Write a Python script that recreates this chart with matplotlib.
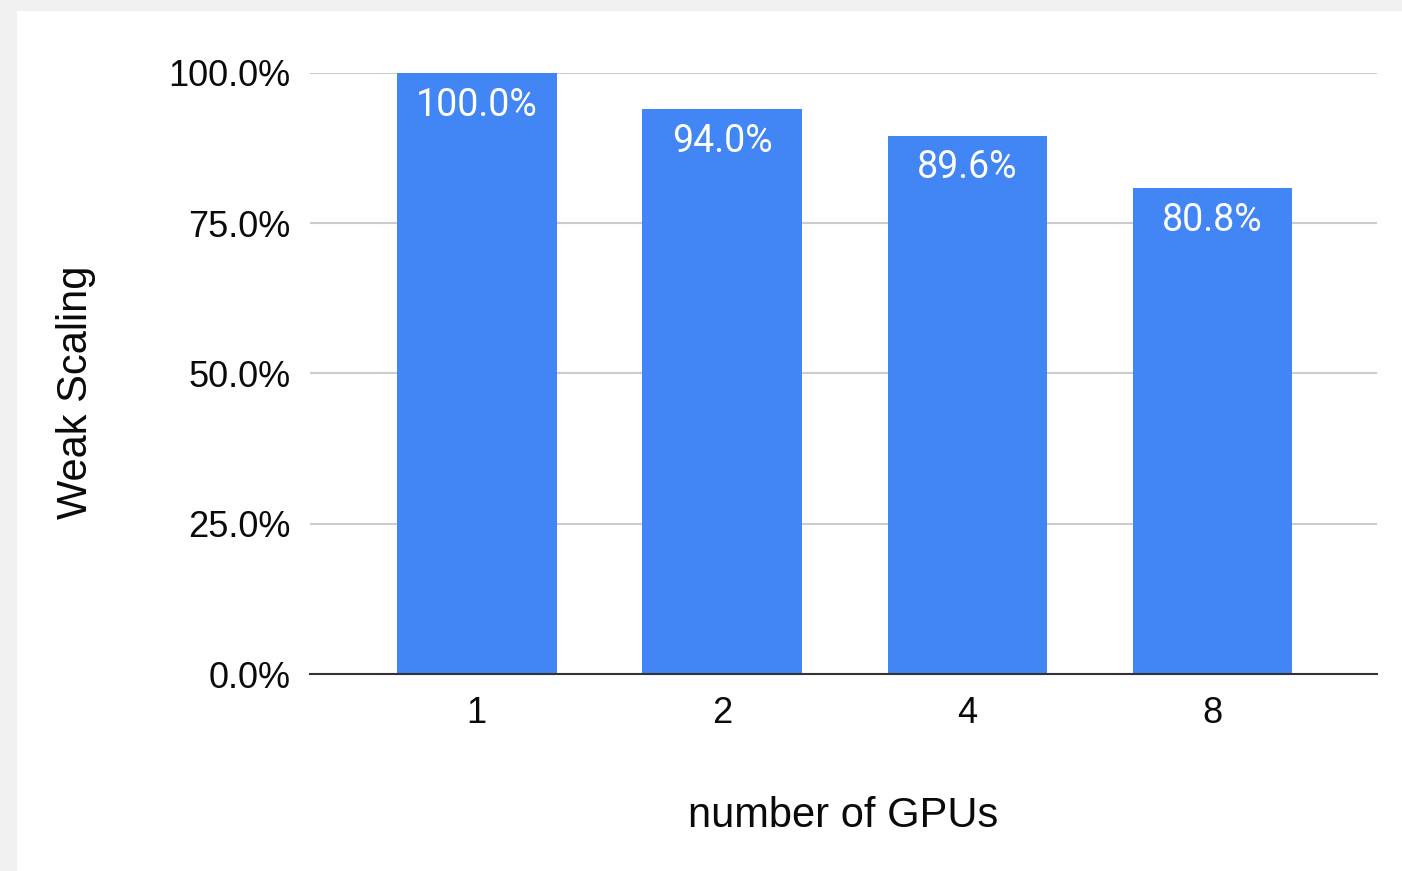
import matplotlib
matplotlib.use("Agg")
import matplotlib.pyplot as plt
from matplotlib.patches import Rectangle
from matplotlib.ticker import FuncFormatter

gpus = ["1", "2", "4", "8"]
weak_scaling = [100.0, 94.0, 89.6, 80.8]
y_ticks = [0, 25, 50, 75, 100]

bar_color = "#4285F4"

fig = plt.figure(figsize=(14.02, 8.71), dpi=100)
fig.patch.set_facecolor("#f1f1f1")
# white card with a thin grey margin on the top and left
fig.patches.append(Rectangle((17 / 1402, 0), 1, (871 - 11) / 871,
                             transform=fig.transFigure, facecolor="white",
                             edgecolor="none", zorder=-10))

ax = fig.add_axes([310 / 1402, (871 - 674) / 871, (1377 - 310) / 1402, (674 - 73) / 871])
ax.set_facecolor("none")

x = range(len(gpus))
bars = ax.bar(x, weak_scaling, width=0.65, color=bar_color, zorder=2)

for b, v in zip(bars, weak_scaling):
    ax.annotate(f"{v:.1f}%", (b.get_x() + b.get_width() / 2, v),
                xytext=(0, -32 * 72 / 100), textcoords="offset points",
                ha="center", va="center", color="white",
                fontsize=27, family="Roboto", zorder=3)

ax.set_xlim(-0.68, 3.67)
ax.set_ylim(0, 100)
ax.set_yticks(y_ticks)
ax.yaxis.set_major_formatter(FuncFormatter(lambda v, p: f"{v:.1f}%"))
ax.set_xticks(list(x))
ax.set_xticklabels(gpus)

ax.grid(axis="y", color="#cccccc", linewidth=1.5, zorder=1)
for s in ["top", "right", "left"]:
    ax.spines[s].set_visible(False)
ax.spines["bottom"].set_color("#333333")
ax.spines["bottom"].set_linewidth(1.5)
ax.spines["bottom"].set_zorder(4)

ax.tick_params(axis="both", length=0, labelsize=26, labelcolor="#0a0a0a")
ax.tick_params(axis="y", pad=14)
ax.tick_params(axis="x", pad=16)
for lbl in ax.get_xticklabels() + ax.get_yticklabels():
    lbl.set_family("Liberation Sans")

ax.set_xlabel("number of GPUs", fontsize=30, family="Liberation Sans",
              color="#0a0a0a")
ax.set_ylabel("Weak Scaling", fontsize=30, family="Liberation Sans",
              color="#0a0a0a")
ax.xaxis.set_label_coords((843 - 310) / (1377 - 310), -(796 - 674) / (674 - 73))
ax.yaxis.set_label_coords(-(310 - 96) / (1377 - 310), (674 - 392) / (674 - 73))

fig.savefig("out.png", dpi=100, facecolor=fig.get_facecolor())
